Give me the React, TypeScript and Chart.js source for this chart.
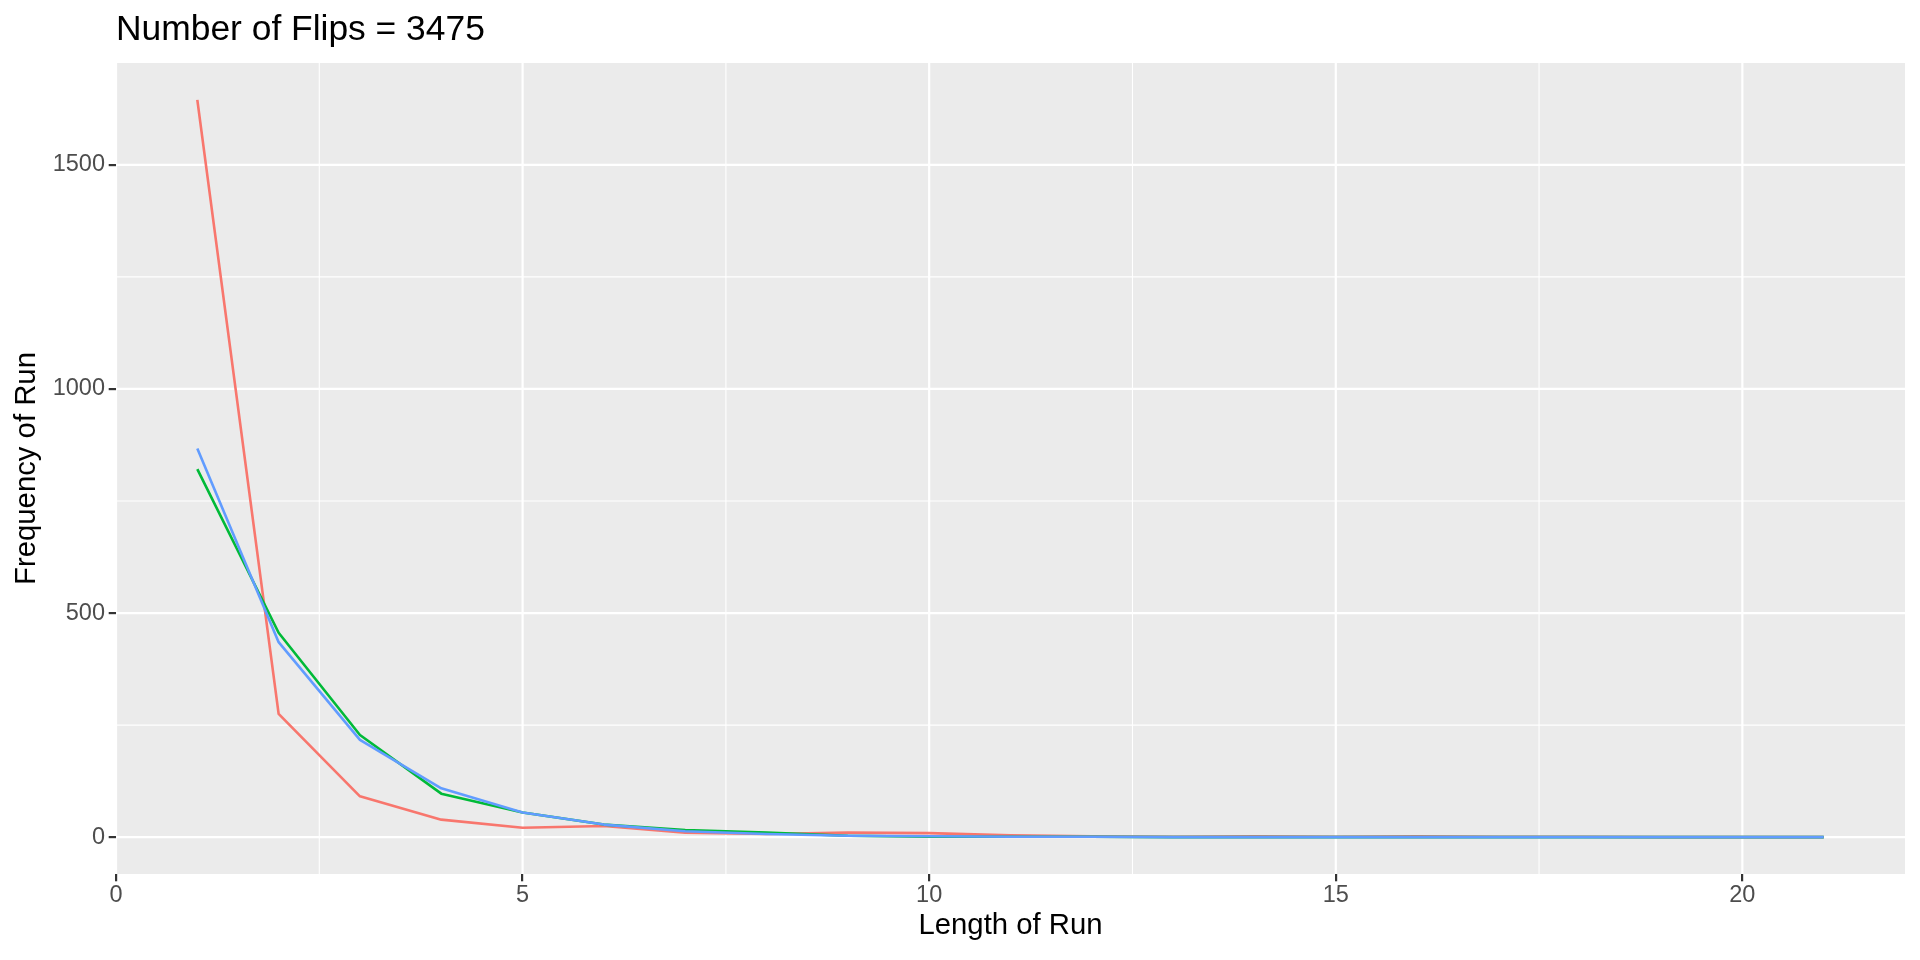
import React, { useEffect, useRef } from "react";
import { Chart, registerables } from "chart.js";

Chart.register(...registerables);

// ---- Data ----
const runLength = [1, 2, 3, 4, 5, 6, 7, 8, 9, 10, 11, 12, 13, 14, 15, 16, 17, 18, 19, 20, 21];
const seriesRed = [1645, 275, 91, 39, 21, 25, 10, 7, 10, 9, 4, 2, 1, 2, 1, 2, 1, 1, 0, 0, 0];
const seriesGreen = [821, 456, 228, 97, 55, 28, 16, 10, 3, 1, 1, 1, 0, 0, 0, 0, 0, 0, 0, 0, 0];
const seriesBlue = [867, 435, 217, 109, 55, 28, 13, 7, 3, 2, 1, 1, 0, 0, 0, 0, 0, 0, 0, 0, 0];

const xTicks = [0, 5, 10, 15, 20];
const yTicks = [0, 500, 1000, 1500];
const xMinor = [2.5, 7.5, 12.5, 17.5];
const yMinor = [250, 750, 1250];

const titleText = "Number of Flips = 3475";
const xTitle = "Length of Run";
const yTitle = "Frequency of Run";

const FONT = '"Liberation Sans", Arial, Helvetica, sans-serif';

export default function App() {
  const ref = useRef<HTMLCanvasElement>(null);

  useEffect(() => {
    if (!ref.current) return;

    const panelPlugin = {
      id: "ggpanel",
      beforeDraw(chart: any) {
        const { ctx, chartArea: a, scales } = chart;
        const xs = scales.x;
        const ys = scales.y;
        ctx.save();
        ctx.fillStyle = "#EBEBEB";
        ctx.fillRect(a.left, a.top, a.right - a.left, a.bottom - a.top);
        ctx.strokeStyle = "#FFFFFF";
        ctx.lineWidth = 1.1;
        ctx.beginPath();
        xMinor.forEach((v) => {
          const p = xs.getPixelForValue(v);
          ctx.moveTo(p, a.top);
          ctx.lineTo(p, a.bottom);
        });
        yMinor.forEach((v) => {
          const p = ys.getPixelForValue(v);
          ctx.moveTo(a.left, p);
          ctx.lineTo(a.right, p);
        });
        ctx.stroke();
        ctx.lineWidth = 2.2;
        ctx.beginPath();
        xTicks.forEach((v) => {
          const p = xs.getPixelForValue(v);
          ctx.moveTo(p, a.top);
          ctx.lineTo(p, a.bottom);
        });
        yTicks.forEach((v) => {
          const p = ys.getPixelForValue(v);
          ctx.moveTo(a.left, p);
          ctx.lineTo(a.right, p);
        });
        ctx.stroke();
        ctx.restore();
      },
      afterDraw(chart: any) {
        const { ctx, chartArea: a } = chart;
        ctx.save();
        ctx.fillStyle = "#000000";
        ctx.textBaseline = "alphabetic";
        ctx.font = `35.4px ${FONT}`;
        ctx.textAlign = "left";
        ctx.fillText(titleText, a.left, 40);
        ctx.font = `29.3px ${FONT}`;
        ctx.textAlign = "center";
        ctx.fillText(xTitle, (a.left + a.right) / 2, 934);
        ctx.translate(35, (a.top + a.bottom) / 2);
        ctx.rotate(-Math.PI / 2);
        ctx.fillText(yTitle, 0, 0);
        ctx.restore();
      },
    };

    const mk = (vals: number[]) => runLength.map((x, i) => ({ x, y: vals[i] }));

    const chart = new Chart(ref.current, {
      type: "line",
      data: {
        datasets: [
          {
            label: "Red",
            data: mk(seriesRed),
            borderColor: "#F8766D",
            borderWidth: 2.6,
            pointRadius: 0,
            tension: 0,
            fill: false,
            borderJoinStyle: "round",
            order: 3,
          },
          {
            label: "Green",
            data: mk(seriesGreen),
            borderColor: "#00BA38",
            borderWidth: 2.6,
            pointRadius: 0,
            tension: 0,
            fill: false,
            borderJoinStyle: "round",
            order: 2,
          },
          {
            label: "Blue",
            data: mk(seriesBlue),
            borderColor: "#619CFF",
            borderWidth: 2.6,
            pointRadius: 0,
            tension: 0,
            fill: false,
            borderJoinStyle: "round",
            order: 1,
          },
        ],
      },
      options: {
        animation: false,
        responsive: false,
        maintainAspectRatio: false,
        devicePixelRatio: 1,
        layout: { padding: { left: 0, top: 63, right: 15, bottom: 0 } },
        plugins: {
          legend: { display: false },
          tooltip: { enabled: false },
          title: { display: false },
        },
        scales: {
          x: {
            type: "linear",
            min: 0,
            max: 22,
            afterBuildTicks: (s: any) => {
              s.ticks = xTicks.map((v) => ({ value: v }));
            },
            afterFit: (s: any) => {
              s.height = 86;
            },
            ticks: {
              color: "#4D4D4D",
              font: { family: FONT, size: 23.5 },
              padding: 0,
              maxRotation: 0,
              autoSkip: false,
              callback: (v: any) => String(v),
            },
            grid: {
              display: true,
              drawOnChartArea: false,
              drawTicks: true,
              tickLength: 7.3,
              tickColor: "#333333",
              lineWidth: 2.2,
            },
            border: { display: false },
          },
          y: {
            type: "linear",
            min: -82.25,
            max: 1727.25,
            afterBuildTicks: (s: any) => {
              s.ticks = yTicks.map((v) => ({ value: v }));
            },
            afterFit: (s: any) => {
              s.width = 116;
            },
            ticks: {
              color: "#4D4D4D",
              font: { family: FONT, size: 23.5 },
              padding: 3.7,
              autoSkip: false,
              callback: (v: any) => String(v),
            },
            grid: {
              display: true,
              drawOnChartArea: false,
              drawTicks: true,
              tickLength: 7.3,
              tickColor: "#333333",
              lineWidth: 2.2,
            },
            border: { display: false },
          },
        },
      },
      plugins: [panelPlugin],
    } as any);

    return () => {
      chart.destroy();
    };
  }, []);

  return (
    <div style={{ position: "absolute", left: 0, top: 0, width: 1920, height: 960, background: "#FFFFFF" }}>
      <canvas ref={ref} width={1920} height={960} style={{ width: 1920, height: 960, display: "block" }} />
    </div>
  );
}
